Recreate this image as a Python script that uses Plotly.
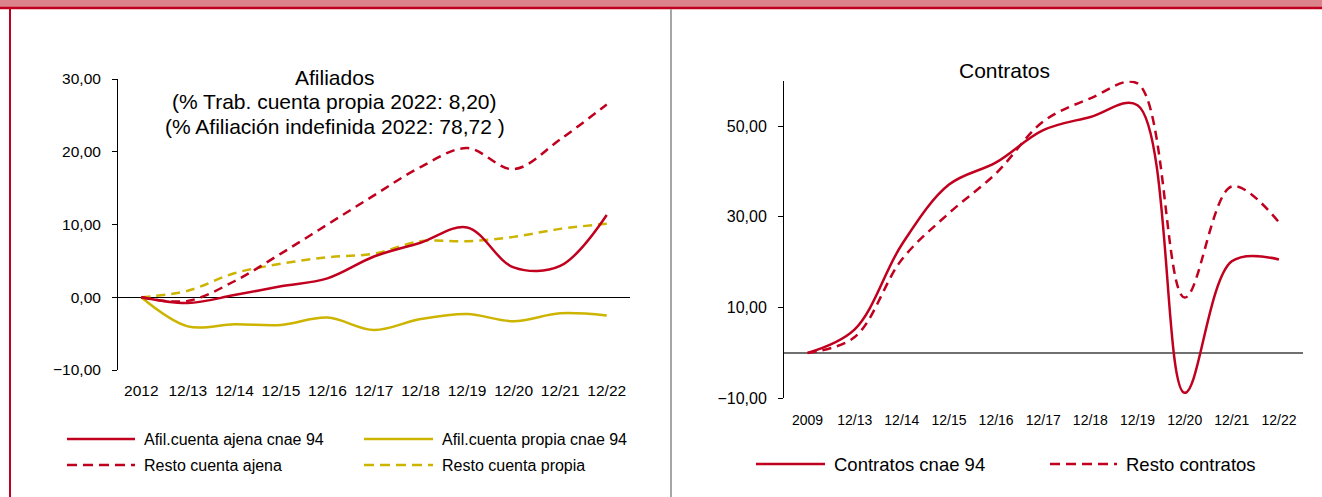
import plotly.graph_objects as go

W, H = 1322, 497

# data, left panel (Afiliados)
cats_afil = ["2012", "12/13", "12/14", "12/15", "12/16", "12/17", "12/18", "12/19", "12/20", "12/21", "12/22"]
ajena_cnae94 = [0, -0.8, 0.3, 1.5, 2.6, 5.6, 7.5, 9.6, 4.1, 4.3, 11.3]
propia_cnae94 = [0, -4.0, -3.7, -3.8, -2.8, -4.5, -3.0, -2.3, -3.3, -2.2, -2.5]
resto_ajena = [0, -0.5, 2.2, 6.0, 10.0, 14.0, 17.9, 20.5, 17.6, 21.7, 26.5]
resto_propia = [0, 0.9, 3.3, 4.6, 5.5, 6.0, 7.7, 7.7, 8.3, 9.4, 10.1]

# data, right panel (Contratos)
cats_contr = ["2009", "12/13", "12/14", "12/15", "12/16", "12/17", "12/18", "12/19", "12/20", "12/21", "12/22"]
contratos_cnae94 = [0, 5.2, 23.9, 37.1, 42.0, 49.1, 52.0, 54.6, -8.8, 20.2, 20.6]
resto_contratos = [0, 3.5, 20.6, 30.8, 39.6, 51.0, 56.1, 59.4, 12.2, 36.7, 28.8]

RED = "#C0001E"
YEL = "#CCB400"
FONT = "Liberation Sans, Arial, sans-serif"


def px(x):
    return x / W


def py(y):
    return 1 - y / H


fig = go.Figure()

# left panel lines
for vals, col, dash in [(resto_propia, YEL, "9px,6px"), (propia_cnae94, YEL, "solid"),
                        (resto_ajena, RED, "9px,6px"), (ajena_cnae94, RED, "solid")]:
    fig.add_trace(go.Scatter(x=cats_afil, y=vals, mode="lines", xaxis="x", yaxis="y",
                             line=dict(color=col, width=2.5, dash=dash, shape="spline"),
                             showlegend=False, hoverinfo="skip"))

# right panel lines
for vals, dash in [(resto_contratos, "9px,6px"), (contratos_cnae94, "solid")]:
    fig.add_trace(go.Scatter(x=cats_contr, y=vals, mode="lines", xaxis="x2", yaxis="y2",
                             line=dict(color=RED, width=2.5, dash=dash, shape="spline"),
                             showlegend=False, hoverinfo="skip"))

fig.update_layout(
    width=W, height=H,
    margin=dict(l=0, r=0, t=0, b=0, autoexpand=False),
    paper_bgcolor="white", plot_bgcolor="white",
    separators=",.",
    font=dict(family=FONT, color="black"),
    xaxis=dict(domain=[px(118), px(630)], type="category", range=[-0.5, 10.5],
               showgrid=False, showline=False, ticks="", ticklabelstandoff=9,
               tickfont=dict(size=15.5), anchor="y"),
    yaxis=dict(domain=[py(370), py(79)], range=[-10, 30], dtick=10, tickformat=".2f",
               showgrid=False, showline=True, linecolor="black", linewidth=1,
               ticks="outside", ticklen=5, tickcolor="black", ticklabelstandoff=8,
               zeroline=True, zerolinecolor="black", zerolinewidth=1,
               tickfont=dict(size=15.5), anchor="x"),
    xaxis2=dict(domain=[px(784), px(1302.5)], type="category", range=[-0.5, 10.5],
                showgrid=False, showline=False, ticks="", ticklabelstandoff=12,
                tickfont=dict(size=14), anchor="y2"),
    yaxis2=dict(domain=[py(398.3), py(80.7)], range=[-10, 60], tickvals=[-10, 10, 30, 50],
                tickformat=".2f", showgrid=False, showline=True, linecolor="black", linewidth=1,
                ticks="outside", ticklen=5, tickcolor="black", ticklabelstandoff=8,
                zeroline=True, zerolinecolor="#707070", zerolinewidth=1.5,
                tickfont=dict(size=16), anchor="x2"),
)

shapes = [
    # top band
    dict(type="rect", xref="paper", yref="paper", x0=0, x1=1, y0=py(7), y1=1,
         fillcolor="#DC848C", line=dict(width=0), layer="below"),
    dict(type="line", xref="paper", yref="paper", x0=0, x1=1, y0=py(8), y1=py(8),
         line=dict(color="#C0001E", width=2.5)),
    # left border and divider
    dict(type="line", xref="paper", yref="paper", x0=px(10), x1=px(10), y0=py(8), y1=0,
         line=dict(color="#C0001E", width=2)),
    dict(type="line", xref="paper", yref="paper", x0=px(671), x1=px(671), y0=py(9), y1=0,
         line=dict(color="#A6A6A6", width=2)),
]

annotations = []

# titles
for txt, yc in [("Afiliados", 77), ("(% Trab. cuenta propia 2022: 8,20)", 101.5),
                ("(% Afiliación indefinida 2022: 78,72 )", 126)]:
    annotations.append(dict(text=txt, xref="paper", yref="paper", x=px(335), y=py(yc),
                            xanchor="center", yanchor="middle", showarrow=False,
                            font=dict(size=21)))
annotations.append(dict(text="Contratos", xref="paper", yref="paper", x=px(1004), y=py(70),
                        xanchor="center", yanchor="middle", showarrow=False,
                        font=dict(size=21)))

# hand-drawn legends (long line samples, as in the original)
legend_items = [
    (67, 135, 439, RED, "solid", "Afil.cuenta ajena cnae 94", 16),
    (364, 433, 439, YEL, "solid", "Afil.cuenta propia cnae 94", 16),
    (67, 135, 465, RED, "10px,6px", "Resto cuenta ajena", 16),
    (364, 433, 465, YEL, "10px,6px", "Resto cuenta propia", 16),
    (756, 825, 464, RED, "solid", "Contratos cnae 94", 18.5),
    (1050, 1117, 464, RED, "10px,6px", "Resto contratos", 18.5),
]
for x0, x1, yy, col, dash, label, fs in legend_items:
    shapes.append(dict(type="line", xref="paper", yref="paper", x0=px(x0), x1=px(x1),
                       y0=py(yy), y1=py(yy), line=dict(color=col, width=2.5, dash=dash)))
    annotations.append(dict(text=label, xref="paper", yref="paper", x=px(x1 + 7), y=py(yy),
                            xanchor="left", yanchor="middle", showarrow=False,
                            font=dict(size=fs)))

fig.update_layout(shapes=shapes, annotations=annotations)

# page body has a default margin; drop it so the figure sits at the window corner
page_css = ("document.documentElement.style.margin='0';"
            "document.documentElement.style.overflow='hidden';"
            "document.body.style.margin='0';"
            "document.body.style.overflow='hidden';")
fig.write_html("out.html", post_script=page_css, config={"displayModeBar": False})
